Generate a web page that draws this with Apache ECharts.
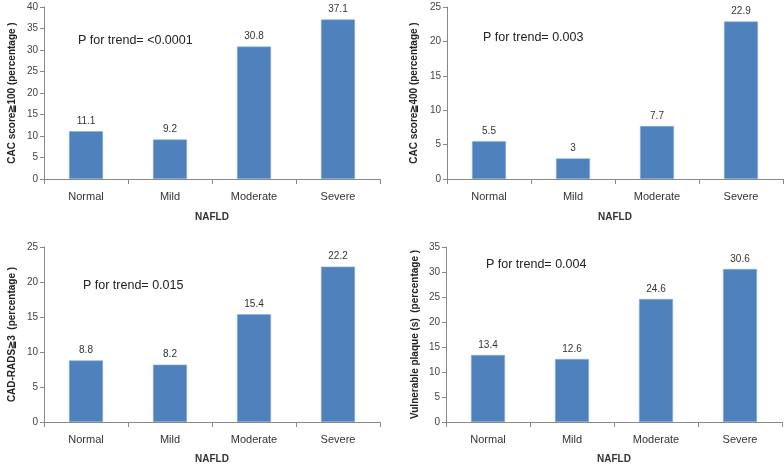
<!DOCTYPE html>
<html>
<head>
<meta charset="utf-8">
<script src="https://cdn.jsdelivr.net/npm/echarts@6/dist/echarts.min.js"></script>
<style>
html,body{margin:0;padding:0;background:#fff;}
#c{width:784px;height:468px;}
</style>
</head>
<body>
<div id="c"></div>
<script>
var categories = ['Normal', 'Mild', 'Moderate', 'Severe'];
var cac100 = [11.1, 9.2, 30.8, 37.1];
var cac400 = [5.5, 3, 7.7, 22.9];
var cadRads3 = [8.8, 8.2, 15.4, 22.2];
var vulnerablePlaque = [13.4, 12.6, 24.6, 30.6];
var yMaxes = [40, 25, 25, 35];
var yNames = ['CAC score\u2267100 (percentage )', 'CAC score\u2267400 (percentage )', 'CAD-RADS\u22673  (percentage )', 'Vulnerable plaque (s)  (percentage )'];
var pTexts = ['P for trend= <0.0001', 'P for trend= 0.003', 'P for trend= 0.015', 'P for trend= 0.004'];
var xName = 'NAFLD';

var seriesData = [cac100, cac400, cadRads3, vulnerablePlaque];
var FONT = '"Liberation Sans", Arial, sans-serif';
var grids = [
  {left: 44, top: 7, width: 336, height: 172},
  {left: 447, top: 7, width: 336, height: 172},
  {left: 44, top: 247, width: 336, height: 175},
  {left: 446, top: 247, width: 336, height: 175}
];
var nameGaps = [27, 28, 27, 26];
var xNameGaps = [33, 33, 32, 32];
var pPos = [[78, 34], [483, 31], [83, 279], [486, 258]];

var chart = echarts.init(document.getElementById('c'), null, {renderer: 'canvas'});
var xAxes = [], yAxes = [], series = [], graphics = [];
for (var i = 0; i < 4; i++) {
  xAxes.push({
    type: 'category', gridIndex: i, data: categories,
    name: xName, nameLocation: 'middle', nameGap: xNameGaps[i],
    nameTextStyle: {fontFamily: FONT, fontWeight: 'bold', fontSize: 10, color: '#333'},
    axisLine: {lineStyle: {color: '#888'}},
    axisTick: {show: true, length: 5, lineStyle: {color: '#888'}},
    axisLabel: {fontFamily: FONT, fontSize: 11, color: '#333', margin: 12}
  });
  yAxes.push({
    type: 'value', gridIndex: i, min: 0, max: yMaxes[i], interval: 5,
    name: yNames[i], nameLocation: 'middle', nameGap: nameGaps[i],
    nameTextStyle: {fontFamily: FONT, fontWeight: 'bold', fontSize: 10, color: '#222'},
    axisLine: {show: true, lineStyle: {color: '#888'}},
    axisTick: {show: true, length: 4, lineStyle: {color: '#888'}},
    splitLine: {show: false},
    axisLabel: {fontFamily: FONT, fontSize: 10, color: '#444', margin: 6}
  });
  series.push({
    type: 'bar', xAxisIndex: i, yAxisIndex: i, data: seriesData[i],
    barWidth: 34,
    itemStyle: {color: '#4F81BD', borderColor: '#8db0da', borderWidth: 0.6},
    label: {show: true, position: 'top', distance: 5, fontFamily: FONT, fontSize: 10, color: '#333'}
  });
  graphics.push({
    type: 'text', left: pPos[i][0], top: pPos[i][1],
    style: {text: pTexts[i], font: '12.5px ' + FONT, fill: '#222'}
  });
}
chart.setOption({
  animation: false,
  backgroundColor: '#fff',
  grid: grids,
  xAxis: xAxes,
  yAxis: yAxes,
  series: series,
  graphic: graphics
});
</script>
</body>
</html>
